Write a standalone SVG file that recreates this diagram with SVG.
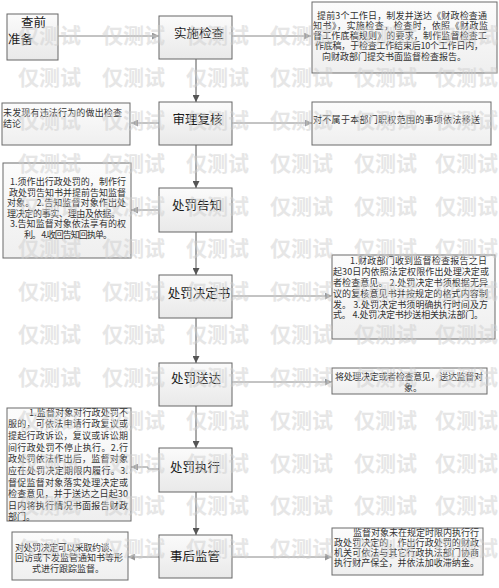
<svg xmlns="http://www.w3.org/2000/svg" width="499" height="588" viewBox="0 0 499 588">
<defs>
<linearGradient id="gNode" x1="0" y1="0" x2="0" y2="1">
<stop offset="0" stop-color="#fbfbfb"/>
<stop offset="1" stop-color="#e9e9e9"/>
</linearGradient>
<linearGradient id="gBox" x1="0" y1="0" x2="0" y2="1">
<stop offset="0" stop-color="#fcfcfc"/>
<stop offset="1" stop-color="#efefef"/>
</linearGradient>
<marker id="arr" viewBox="0 0 10 10" refX="10" refY="5" markerWidth="7" markerHeight="7" markerUnits="userSpaceOnUse" orient="auto">
<path d="M0,0 L10,5 L0,10 z" fill="#555"/>
</marker>
<marker id="arrL" viewBox="0 0 10 10" refX="10" refY="5" markerWidth="7" markerHeight="7" markerUnits="userSpaceOnUse" orient="auto">
<path d="M0,0 L10,5 L0,10 z" fill="#999"/>
</marker>
</defs>
<style>
.node{fill:url(#gNode);stroke:#666;stroke-width:1}
.box{fill:url(#gBox);stroke:#6a6a6a;stroke-width:1}
.nt{font-family:"Noto Sans CJK SC","Noto Sans",sans-serif;font-size:12.5px;fill:#1a1a1a;text-anchor:middle}
.bt{font-family:"Noto Sans CJK SC","Noto Sans",sans-serif;font-size:9px;fill:#333}
.mid{text-anchor:middle}
.c{fill:none;stroke:#888;stroke-width:1}
.cv{fill:none;stroke:#555;stroke-width:1}
.wm{font-family:"Noto Sans CJK SC",sans-serif;font-size:21px;font-weight:bold;fill:#cfcfcf;opacity:0.5}
</style>
<rect width="499" height="588" fill="#ffffff"/>

<g id="connectors">
<line class="c" x1="58" y1="36" x2="159" y2="36" marker-end="url(#arrL)"/>
<line class="c" x1="232" y1="36" x2="311" y2="36" marker-end="url(#arrL)"/>
<line class="cv" x1="196" y1="59" x2="196" y2="102" marker-end="url(#arr)"/>
<line class="c" x1="159" y1="123" x2="131" y2="123" marker-end="url(#arrL)"/>
<line class="c" x1="232" y1="123" x2="312" y2="123" marker-end="url(#arrL)"/>
<line class="cv" x1="196" y1="145" x2="196" y2="188" marker-end="url(#arr)"/>
<line class="c" x1="158" y1="210" x2="131" y2="210" marker-end="url(#arrL)"/>
<line class="cv" x1="196" y1="232" x2="196" y2="275" marker-end="url(#arr)"/>
<line class="c" x1="232" y1="296" x2="332" y2="296" marker-end="url(#arrL)"/>
<line class="cv" x1="196" y1="318" x2="196" y2="363" marker-end="url(#arr)"/>
<line class="c" x1="232" y1="382" x2="332" y2="382" marker-end="url(#arrL)"/>
<line class="cv" x1="196" y1="406" x2="196" y2="448" marker-end="url(#arr)"/>
<polyline class="c" points="159,469 148,469 148,467 131,467" marker-end="url(#arrL)"/>
<line class="cv" x1="196" y1="492" x2="196" y2="535" marker-end="url(#arr)"/>
<line class="c" x1="159" y1="557" x2="128" y2="557" marker-end="url(#arrL)"/>
<line class="c" x1="232" y1="557" x2="332" y2="557" marker-end="url(#arrL)"/>
</g>

<g id="n-prep">
<rect class="node" x="7" y="14" width="51" height="46"/>
<text class="nt" style="text-anchor:start" x="21" y="27">查前</text>
<text class="nt" style="text-anchor:start" x="8" y="44">准备</text>
</g>

<g id="n-inspect">
<rect class="node" x="159" y="16" width="73" height="43"/>
<text class="nt" x="199" y="37.5">实施检查</text>
</g>

<g id="b-inspect">
<rect class="box" x="312" y="2" width="185" height="71"/>
<text class="bt" x="317" y="18.5" textLength="170" lengthAdjust="spacing">提前3个工作日，制发并送达《财政检查通</text>
<text class="bt" x="313" y="28.7" textLength="175" lengthAdjust="spacing">知书》，实施检查，检查时，依照《财政监</text>
<text class="bt" x="313" y="38.9" textLength="174" lengthAdjust="spacing">督工作底稿规则》的要求，制作监督检查工</text>
<text class="bt" x="315" y="49.1" textLength="168" lengthAdjust="spacing">作底稿，于检查工作结束后10个工作日内，</text>
<text class="bt mid" x="394" y="59.5">向财政部门提交书面监督检查报告。</text>
</g>

<g id="n-review">
<rect class="node" x="159" y="102" width="73" height="43"/>
<text class="nt" x="197.5" y="123.5">审理复核</text>
</g>

<g id="b-nofind">
<rect class="box" x="2" y="103" width="128" height="42"/>
<text class="bt" x="3" y="115.5" textLength="119" lengthAdjust="spacing">未发现有违法行为的做出检查</text>
<text class="bt" x="3" y="126.5">结论</text>
</g>

<g id="b-transfer">
<rect class="box" x="312" y="102" width="179" height="43"/>
<text class="bt" x="313" y="122.5" textLength="167" lengthAdjust="spacing">对不属于本部门职权范围的事项依法移送</text>
</g>

<g id="n-notice">
<rect class="node" x="159" y="188" width="73" height="44"/>
<text class="nt" x="197" y="209.5">处罚告知</text>
</g>

<g id="b-notice">
<rect class="box" x="3" y="163" width="128" height="95"/>
<text class="bt" x="10" y="185.3" textLength="116" lengthAdjust="spacing">1.须作出行政处罚的，制作行</text>
<text class="bt" x="9" y="195.5" textLength="117" lengthAdjust="spacing">政处罚告知书并提前告知监督</text>
<text class="bt" x="7" y="206.3" textLength="119" lengthAdjust="spacing">对象。 2.告知监督对象作出处</text>
<text class="bt" x="7" y="216.5" textLength="113" lengthAdjust="spacing">理决定的事实、理由及依据。</text>
<text class="bt" x="10" y="227.3" textLength="116" lengthAdjust="spacing">3.告知监督对象依法享有的权</text>
<text class="bt" x="24" y="237.5" textLength="88" lengthAdjust="spacing">利。 4.收回告知回执单。</text>
</g>

<g id="n-decision">
<rect class="node" x="159" y="275" width="73" height="43"/>
<text class="nt" x="199" y="297.5">处罚决定书</text>
</g>

<g id="b-decision">
<rect class="box" x="332" y="255" width="163" height="84"/>
<text class="bt" x="350" y="264" textLength="137" lengthAdjust="spacing">1.财政部门收到监督检查报告之日</text>
<text class="bt" x="333" y="275" textLength="156" lengthAdjust="spacing">起30日内依照法定权限作出处理决定或</text>
<text class="bt" x="333" y="286" textLength="155" lengthAdjust="spacing">者检查意见。 2.处罚决定书须根据无异</text>
<text class="bt" x="333" y="296.6" textLength="155" lengthAdjust="spacing">议的复核意见书并按规定的格式内容制</text>
<text class="bt" x="333" y="307.6" textLength="155" lengthAdjust="spacing">发。 3.处罚决定书须明确执行时间及方</text>
<text class="bt" x="333" y="318.3" textLength="150" lengthAdjust="spacing">式。 4.处罚决定书抄送相关执法部门。</text>
</g>

<g id="n-deliver">
<rect class="node" x="159" y="363" width="73" height="43"/>
<text class="nt" x="196" y="382.5">处罚送达</text>
</g>

<g id="b-deliver">
<rect class="box" x="332" y="368" width="155" height="26"/>
<text class="bt" x="335" y="380.3" textLength="148" lengthAdjust="spacing">将处理决定或者检查意见，送达监督对</text>
<text class="bt mid" x="413" y="391.3">象。</text>
</g>

<g id="n-execute">
<rect class="node" x="159" y="448" width="73" height="44"/>
<text class="nt" x="195" y="471.5">处罚执行</text>
</g>

<g id="b-execute">
<rect class="box" x="7" y="408" width="124" height="113"/>
<text class="bt" x="29" y="415.5" textLength="99" lengthAdjust="spacing">1.监督对象对行政处罚不</text>
<text class="bt" x="8" y="427.2" textLength="120" lengthAdjust="spacing">服的，可依法申请行政复议或</text>
<text class="bt" x="8" y="438.9" textLength="120" lengthAdjust="spacing">提起行政诉讼，复议或诉讼期</text>
<text class="bt" x="8" y="450.6" textLength="120" lengthAdjust="spacing">间行政处罚不停止执行。2.行</text>
<text class="bt" x="8" y="462.3" textLength="120" lengthAdjust="spacing">政处罚依法作出后，监督对象</text>
<text class="bt" x="8" y="474" textLength="120" lengthAdjust="spacing">应在处罚决定期限内履行。3.</text>
<text class="bt" x="8" y="485.7" textLength="120" lengthAdjust="spacing">督促监督对象落实处理决定或</text>
<text class="bt" x="8" y="497.4" textLength="120" lengthAdjust="spacing">检查意见，并于送达之日起30</text>
<text class="bt" x="8" y="509.1" textLength="120" lengthAdjust="spacing">日内将执行情况书面报告财政</text>
<text class="bt" x="8" y="520">部门。</text>
</g>

<g id="n-supervise">
<rect class="node" x="159" y="535" width="73" height="43"/>
<text class="nt" x="195" y="561">事后监管</text>
</g>

<g id="b-supervise-left">
<rect class="box" x="12" y="532" width="116" height="48"/>
<text class="bt" x="15" y="550.5" textLength="103" lengthAdjust="spacing">对处罚决定可以采取约谈、</text>
<text class="bt" x="15" y="560.8" textLength="108" lengthAdjust="spacing">回访或下发监管通知书等形</text>
<text class="bt mid" x="68" y="571.5">式进行跟踪监督。</text>
</g>

<g id="b-supervise-right">
<rect class="box" x="332" y="528" width="151" height="47"/>
<text class="bt" x="353" y="535.5" textLength="126" lengthAdjust="spacing">监督对象未在规定时限内执行行</text>
<text class="bt" x="334" y="545.5" textLength="145" lengthAdjust="spacing">政处罚决定的，作出行政处罚的财政</text>
<text class="bt" x="334" y="555.5" textLength="145" lengthAdjust="spacing">机关可依法与其它行政执法部门协商</text>
<text class="bt" x="334" y="565.5" textLength="145" lengthAdjust="spacing">执行财产保全，并依法加收滞纳金。</text>
</g>

<g id="watermark">
<text class="wm" x="18" y="43">仅测试</text><text class="wm" x="102" y="43">仅测试</text><text class="wm" x="186" y="43">仅测试</text><text class="wm" x="270" y="43">仅测试</text><text class="wm" x="354" y="43">仅测试</text><text class="wm" x="435" y="43">仅测试</text>
<text class="wm" x="18" y="85">仅测试</text><text class="wm" x="102" y="85">仅测试</text><text class="wm" x="186" y="85">仅测试</text><text class="wm" x="270" y="85">仅测试</text><text class="wm" x="354" y="85">仅测试</text><text class="wm" x="435" y="85">仅测试</text>
<text class="wm" x="18" y="128">仅测试</text><text class="wm" x="102" y="128">仅测试</text><text class="wm" x="186" y="128">仅测试</text><text class="wm" x="270" y="128">仅测试</text><text class="wm" x="354" y="128">仅测试</text><text class="wm" x="435" y="128">仅测试</text>
<text class="wm" x="18" y="171">仅测试</text><text class="wm" x="102" y="171">仅测试</text><text class="wm" x="186" y="171">仅测试</text><text class="wm" x="270" y="171">仅测试</text><text class="wm" x="354" y="171">仅测试</text><text class="wm" x="435" y="171">仅测试</text>
<text class="wm" x="18" y="214">仅测试</text><text class="wm" x="102" y="214">仅测试</text><text class="wm" x="186" y="214">仅测试</text><text class="wm" x="270" y="214">仅测试</text><text class="wm" x="354" y="214">仅测试</text><text class="wm" x="435" y="214">仅测试</text>
<text class="wm" x="18" y="256">仅测试</text><text class="wm" x="102" y="256">仅测试</text><text class="wm" x="186" y="256">仅测试</text><text class="wm" x="270" y="256">仅测试</text><text class="wm" x="354" y="256">仅测试</text><text class="wm" x="435" y="256">仅测试</text>
<text class="wm" x="18" y="299">仅测试</text><text class="wm" x="102" y="299">仅测试</text><text class="wm" x="186" y="299">仅测试</text><text class="wm" x="270" y="299">仅测试</text><text class="wm" x="354" y="299">仅测试</text><text class="wm" x="435" y="299">仅测试</text>
<text class="wm" x="18" y="342">仅测试</text><text class="wm" x="102" y="342">仅测试</text><text class="wm" x="186" y="342">仅测试</text><text class="wm" x="270" y="342">仅测试</text><text class="wm" x="354" y="342">仅测试</text><text class="wm" x="435" y="342">仅测试</text>
<text class="wm" x="18" y="385">仅测试</text><text class="wm" x="102" y="385">仅测试</text><text class="wm" x="186" y="385">仅测试</text><text class="wm" x="270" y="385">仅测试</text><text class="wm" x="354" y="385">仅测试</text><text class="wm" x="435" y="385">仅测试</text>
<text class="wm" x="18" y="428">仅测试</text><text class="wm" x="102" y="428">仅测试</text><text class="wm" x="186" y="428">仅测试</text><text class="wm" x="270" y="428">仅测试</text><text class="wm" x="354" y="428">仅测试</text><text class="wm" x="435" y="428">仅测试</text>
<text class="wm" x="18" y="471">仅测试</text><text class="wm" x="102" y="471">仅测试</text><text class="wm" x="186" y="471">仅测试</text><text class="wm" x="270" y="471">仅测试</text><text class="wm" x="354" y="471">仅测试</text><text class="wm" x="435" y="471">仅测试</text>
<text class="wm" x="18" y="513">仅测试</text><text class="wm" x="102" y="513">仅测试</text><text class="wm" x="186" y="513">仅测试</text><text class="wm" x="270" y="513">仅测试</text><text class="wm" x="354" y="513">仅测试</text><text class="wm" x="435" y="513">仅测试</text>
<text class="wm" x="18" y="556">仅测试</text><text class="wm" x="102" y="556">仅测试</text><text class="wm" x="186" y="556">仅测试</text><text class="wm" x="270" y="556">仅测试</text><text class="wm" x="354" y="556">仅测试</text><text class="wm" x="435" y="556">仅测试</text>
</g>
</svg>
